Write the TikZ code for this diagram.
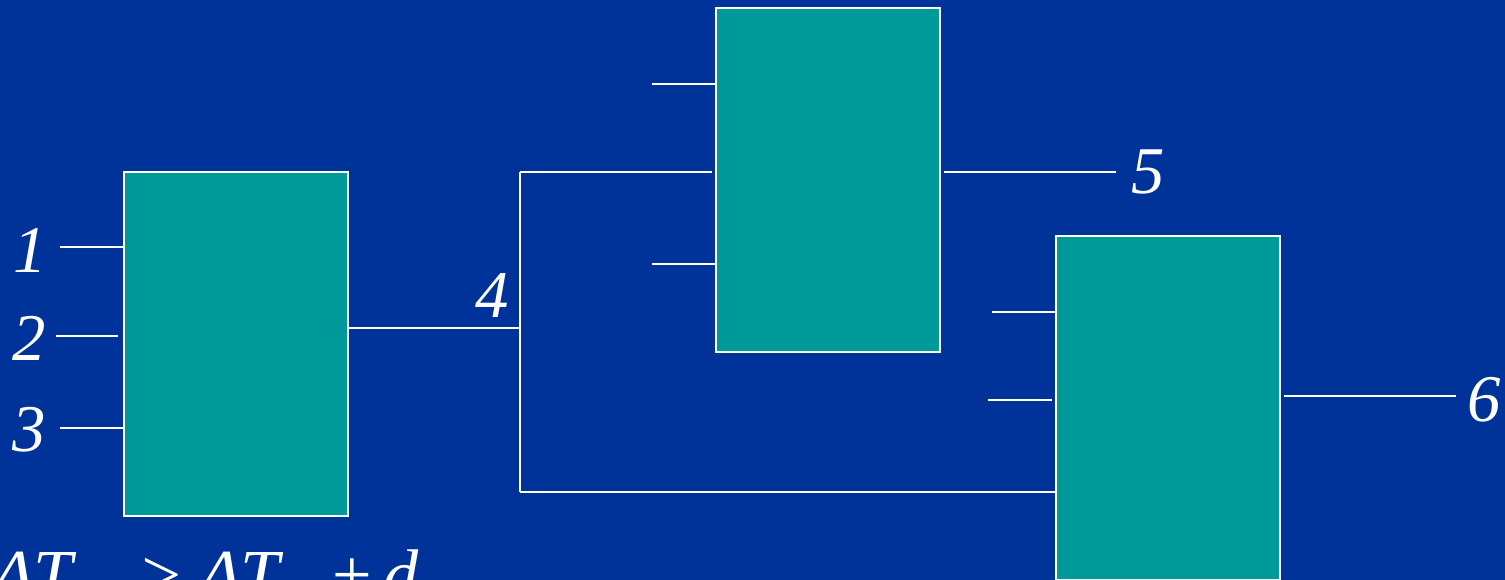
\documentclass[tikz,border=0pt]{standalone}
\usepackage{fontspec}
\setmainfont{Liberation Serif}
\usetikzlibrary{positioning}
\definecolor{Slide}{HTML}{003399}
\definecolor{Gate}{HTML}{009999}

\begin{document}
\begin{tikzpicture}[x=0.02cm,y=-0.02cm,
    gatebox/.style={draw=white,fill=Gate,line width=0.9pt,
      minimum width=4.48cm,minimum height=6.88cm,inner sep=0pt},
    wire/.style={draw=white,line width=0.9pt},
    pinlabel/.style={text=white,inner sep=0pt,
      font=\fontsize{38}{40}\selectfont\itshape}]
  \fill[Slide] (0,0) rectangle (1505,580);
  \useasboundingbox (0,0) rectangle (1505,580);

  % gates
  \node[gatebox] (gA) at (236,344) {};
  \node[gatebox] (gB) at (828,180) {};
  \node[gatebox] (gC) at (1168,408) {};

  % inputs of the first gate
  \node[pinlabel] (n1) at (30,250) {1};
  \node[pinlabel] (n2) at (29,338) {2};
  \node[pinlabel] (n3) at (29,430) {3};
  \coordinate (i1) at (60,247);
  \coordinate (i2) at (56,336);
  \coordinate (i3) at (60,428);
  \draw[wire] (i1) -- (i1 -| gA.west);
  \draw[wire] (i2) -- ([xshift=-3pt]i2 -| gA.west);
  \draw[wire] (i3) -- (i3 -| gA.west);

  % net 4 fans out to both gates
  \node[pinlabel] (n4) at (492,296) {4};
  \coordinate (fork) at (520,328);
  \coordinate (upB) at (520,172);
  \coordinate (dnC) at (520,492);
  \draw[wire] (gA.east |- fork) -- (fork);
  \draw[wire] (upB) -- (dnC);
  \draw[wire] (upB) -- ([xshift=-2pt]upB -| gB.west);
  \draw[wire] (dnC) -- (dnC -| gC.west);

  % free inputs
  \coordinate (b1) at (652,84);
  \coordinate (b3) at (652,264);
  \coordinate (c1) at (992,312);
  \coordinate (c2) at (988,400);
  \draw[wire] (b1) -- (b1 -| gB.west);
  \draw[wire] (b3) -- (b3 -| gB.west);
  \draw[wire] (c1) -- (c1 -| gC.west);
  \draw[wire] (c2) -- ([xshift=-2pt]c2 -| gC.west);

  % outputs
  \node[pinlabel] (n5) at (1148,172) {5};
  \node[pinlabel] (n6) at (1484,400) {6};
  \coordinate (o5) at (1116,172);
  \coordinate (o6) at (1456,396);
  \draw[wire] ([xshift=2pt]gB.east |- o5) -- (o5);
  \draw[wire] ([xshift=2pt]gC.east |- o6) -- (o6);

  \node[pinlabel,anchor=base west,font=\fontsize{40}{42}\selectfont\itshape]
    (req) at (-8,599)
    {ΔT\hspace{1.0em}{\upshape ≥} ΔT\hspace{0.75em}{\upshape +}\,d};
\end{tikzpicture}
\end{document}
